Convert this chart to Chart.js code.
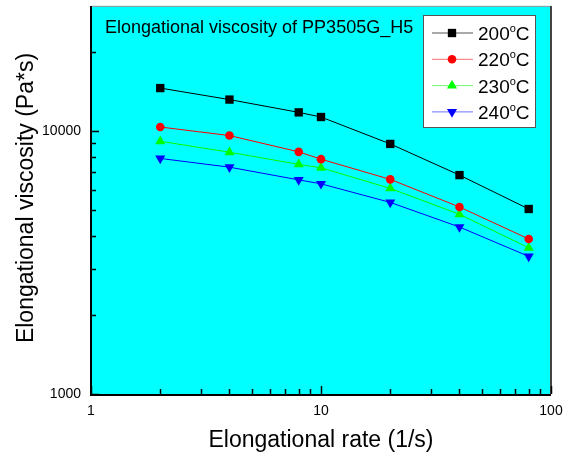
<!DOCTYPE html>
<html>
<head>
<meta charset="utf-8">
<script src="https://cdn.jsdelivr.net/npm/chart.js@4/dist/chart.umd.min.js"></script>
<style>
  html, body { margin: 0; padding: 0; background: #fff; }
  #wrap { width: 566px; height: 459px; }
</style>
</head>
<body>
<div id="wrap"><canvas id="chart" width="566" height="459"></canvas></div>
<script>
const rates = [2, 4, 8, 10, 20, 40, 80];
const temps = ["200", "220", "230", "240"];
const visc200 = [14600, 13200, 11800, 11330, 8950, 6810, 5060];
const visc220 = [10380, 9630, 8350, 7830, 6560, 5150, 3890];
const visc230 = [9160, 8320, 7480, 7260, 6060, 4830, 3600];
const visc240 = [7880, 7300, 6530, 6310, 5360, 4320, 3340];
const xLabels = [1, 10, 100];
const xMinor = [2, 3, 4, 5, 6, 7, 8, 9, 20, 30, 40, 50, 60, 70, 80, 90];
const yLabels = [1000, 10000];
const yMinor = [2000, 3000, 4000, 5000, 6000, 7000, 8000, 9000, 20000];

const colors = ["#000000", "#ff0000", "#00ff00", "#0000ff"];
const legendLine = ["#555555", "#ff7070", "#70ff70", "#7070ff"];
const markers = [
  { style: "rect", radius: 5.9, rotation: 0 },
  { style: "circle", radius: 4.3, rotation: 0 },
  { style: "triangle", radius: 5.8, rotation: 0 },
  { style: "triangle", radius: 5.8, rotation: 180 },
];
const series = [visc200, visc220, visc230, visc240];

const FONT = "Arial, 'Liberation Sans', sans-serif";

const datasets = series.map((vals, i) => ({
  label: temps[i],
  data: rates.map((r, j) => ({ x: r, y: vals[j] })),
  borderColor: colors[i],
  backgroundColor: colors[i],
  borderWidth: 1,
  pointStyle: markers[i].style,
  pointRadius: markers[i].radius,
  pointRotation: markers[i].rotation,
  pointBorderWidth: 0,
  pointHoverRadius: markers[i].radius,
}));

const decorPlugin = {
  id: "decor",
  beforeDraw(chart) {
    const { ctx, chartArea: a } = chart;
    ctx.save();
    ctx.fillStyle = "#ffffff";
    ctx.fillRect(0, 0, chart.width, chart.height);
    ctx.fillStyle = "#00ffff";
    ctx.fillRect(a.left, a.top, a.right - a.left, a.bottom - a.top);
    ctx.restore();
  },
  afterDraw(chart) {
    const { ctx, chartArea: a, scales } = chart;
    ctx.save();
    // frame
    ctx.strokeStyle = "#999999";
    ctx.lineWidth = 1;
    ctx.beginPath();
    ctx.moveTo(a.left, a.top + 0.5);
    ctx.lineTo(a.right, a.top + 0.5);
    ctx.stroke();
    ctx.strokeStyle = "#444444";
    ctx.lineWidth = 2;
    ctx.beginPath();
    ctx.moveTo(a.right, a.top);
    ctx.lineTo(a.right, a.bottom);
    ctx.stroke();
    ctx.strokeStyle = "#000000";
    ctx.beginPath();
    ctx.moveTo(a.left, a.top);
    ctx.lineTo(a.left, a.bottom + 1);
    ctx.lineTo(a.right, a.bottom + 1);
    ctx.stroke();

    // inward ticks
    ctx.lineWidth = 1.5;
    xLabels.concat(xMinor).forEach(v => {
      const px = Math.round(scales.x.getPixelForValue(v)) + 0.5;
      const len = xLabels.includes(v) ? 8 : 5;
      ctx.beginPath();
      ctx.moveTo(px, a.bottom);
      ctx.lineTo(px, a.bottom - len);
      ctx.stroke();
    });
    yLabels.concat(yMinor).forEach(v => {
      const py = Math.round(scales.y.getPixelForValue(v)) + 0.5;
      const len = yLabels.includes(v) ? 8 : 5;
      ctx.beginPath();
      ctx.moveTo(a.left, py);
      ctx.lineTo(a.left + len, py);
      ctx.stroke();
    });

    // axis titles
    ctx.fillStyle = "#000000";
    ctx.font = "23px " + FONT;
    ctx.textAlign = "center";
    ctx.textBaseline = "alphabetic";
    ctx.fillText("Elongational rate (1/s)", (a.left + a.right) / 2, 447);
    ctx.save();
    ctx.translate(33, 198);
    ctx.rotate(-Math.PI / 2);
    ctx.fillText("Elongational viscosity (Pa*s)", 0, 0);
    ctx.restore();

    // plot title
    ctx.font = "18px " + FONT;
    ctx.textAlign = "left";
    ctx.fillText("Elongational viscosity of PP3505G_H5", 105, 33);

    // legend
    const lx = 423, ly = 15, lw = 112, lh = 112;
    ctx.fillStyle = "#ffffff";
    ctx.fillRect(lx, ly, lw, lh);
    ctx.strokeStyle = "#555555";
    ctx.lineWidth = 1;
    ctx.strokeRect(lx + 0.5, ly + 0.5, lw, lh);
    temps.forEach((tLabel, i) => {
      const cy = 33 + i * 26.3;
      ctx.strokeStyle = legendLine[i];
      ctx.lineWidth = 1;
      ctx.beginPath();
      ctx.moveTo(432, cy);
      ctx.lineTo(473, cy);
      ctx.stroke();
      ctx.fillStyle = colors[i];
      Chart.helpers.drawPoint(ctx, {
        pointStyle: markers[i].style,
        radius: markers[i].radius,
        rotation: markers[i].rotation,
        borderWidth: 0,
      }, 452, cy);
      ctx.fillStyle = "#000000";
      ctx.textBaseline = "alphabetic";
      ctx.font = "19px " + FONT;
      ctx.fillText(tLabel, 478, cy + 7);
      const w = ctx.measureText(tLabel).width;
      ctx.font = "11px " + FONT;
      ctx.fillText("o", 478 + w, cy - 1);
      const w2 = ctx.measureText("o").width;
      ctx.font = "19px " + FONT;
      ctx.fillText("C", 478 + w + w2, cy + 7);
    });
    ctx.restore();
  },
};

new Chart(document.getElementById("chart"), {
  type: "line",
  data: { datasets },
  options: {
    responsive: false,
    animation: false,
    layout: { padding: { top: 5, right: 15, left: 0, bottom: 0 } },
    plugins: { legend: { display: false }, tooltip: { enabled: false } },
    scales: {
      x: {
        type: "logarithmic",
        min: 1,
        max: 100,
        grid: { display: false },
        border: { display: false },
        ticks: {
          autoSkip: false,
          maxRotation: 0,
          padding: 1,
          color: "#000000",
          font: { family: FONT, size: 14 },
          callback: v => (xLabels.includes(v) ? String(v) : ""),
        },
        afterFit: s => { s.height = 65; s.paddingLeft = 0; s.paddingRight = 0; },
      },
      y: {
        type: "logarithmic",
        min: 1000,
        max: 30000,
        grid: { display: false },
        border: { display: false },
        ticks: {
          autoSkip: false,
          padding: 2,
          color: "#000000",
          font: { family: FONT, size: 14 },
          callback: v => (yLabels.includes(v) ? String(v) : ""),
        },
        afterFit: s => { s.width = 91; s.paddingTop = 0; s.paddingBottom = 0; },
      },
    },
  },
  plugins: [decorPlugin],
});
</script>
</body>
</html>
